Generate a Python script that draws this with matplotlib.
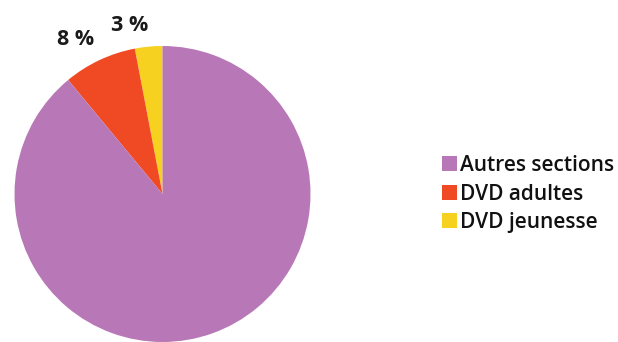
import matplotlib
matplotlib.use("Agg")
import matplotlib.pyplot as plt
import numpy as np

categories = ["DVD jeunesse", "DVD adultes", "Autres sections"]
values = [3, 8, 89]
labels = ["3 %", "8 %", ""]
colors = ["#F7D11F", "#EF4A24", "#B878B7"]
legend_order = ["Autres sections", "DVD adultes", "DVD jeunesse"]

plt.rcParams['font.family'] = ['Open Sans', 'DejaVu Sans']

W, H = 618, 342
fig = plt.figure(figsize=(W / 100, H / 100), dpi=100)
cx, cy, r = 162.5, 194, 148
ax = fig.add_axes([(cx - r) / W, (H - cy - r) / H, 2 * r / W, 2 * r / H])
wedges, _ = ax.pie(values, colors=colors, startangle=90, counterclock=True,
                   radius=1.0, wedgeprops=dict(linewidth=0))
ax.set_xlim(-1, 1)
ax.set_ylim(-1, 1)
ax.set_aspect('equal')
ax.axis('off')

# percentage labels outside
angles = []
acc = 0
for v in values:
    angles.append(90 + (acc + v / 2) * 3.6)
    acc += v
offsets = {0: (1.157, 5.7), 1: (1.20, 4.1)}
for i, lab in enumerate(labels):
    if not lab:
        continue
    d, extra = offsets[i]
    a = np.deg2rad(angles[i] + extra)
    ax.text(d * np.cos(a), d * np.sin(a), lab, ha='center', va='center',
            fontsize=15.5, fontweight='bold', color='#1a1a1a', clip_on=False)

handles = [wedges[categories.index(c)] for c in legend_order]
fig.legend(handles, legend_order, loc='center left',
           bbox_to_anchor=(442 / W, 1 - 194 / H), frameon=False,
           prop=dict(size=15, weight='semibold'), labelcolor='#111111',
           handlelength=0.72, handleheight=0.72, handletextpad=0.12,
           labelspacing=0.36, borderaxespad=0, borderpad=0)

fig.savefig("out.png", dpi=100, facecolor='white')
